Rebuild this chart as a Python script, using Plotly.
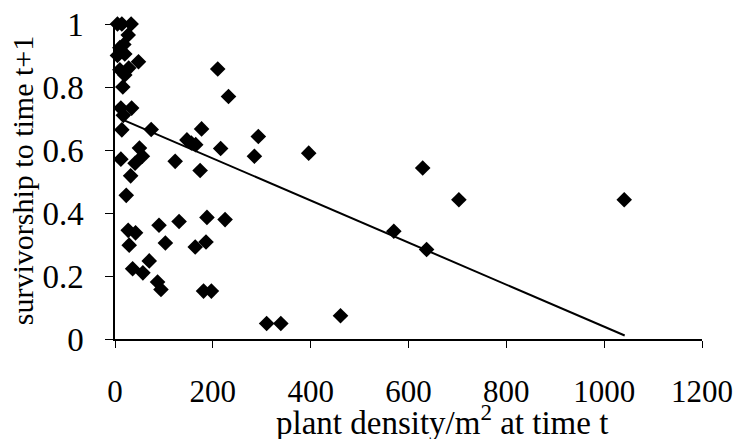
import plotly.graph_objects as go

density = [5, 14, 33, 27, 18, 10, 5, 20, 48, 10, 28, 20, 16, 12, 34, 17, 14, 74, 177, 293,
           147, 156, 165, 216, 285, 50, 56, 41, 12, 123, 174, 32, 23, 210, 232, 396, 629, 703,
           570, 637, 1041, 310, 339, 461, 131, 90, 188, 225, 27, 42, 29, 103, 164, 186, 70,
           36, 57, 87, 94, 181, 197]
survival = [1.0, 1.0, 1.0, 0.965, 0.935, 0.925, 0.90, 0.905, 0.88, 0.855, 0.86, 0.838, 0.80,
            0.733, 0.733, 0.71, 0.664, 0.665, 0.667, 0.643, 0.632, 0.622, 0.617, 0.605, 0.58,
            0.606, 0.58, 0.558, 0.571, 0.564, 0.535, 0.518, 0.456, 0.857, 0.77, 0.59, 0.543,
            0.442, 0.342, 0.284, 0.442, 0.049, 0.049, 0.074, 0.373, 0.361, 0.386, 0.379, 0.345,
            0.337, 0.298, 0.305, 0.292, 0.308, 0.248, 0.223, 0.21, 0.181, 0.157, 0.152, 0.152]

trend_x = [13, 1042]
trend_y = [0.698, 0.011]

x_ticks = [0, 200, 400, 600, 800, 1000, 1200]
y_ticks = [0, 0.2, 0.4, 0.6, 0.8, 1.0]
y_tick_labels = ["0", "0.2", "0.4", "0.6", "0.8", "1"]
x_title = "plant density/m<sup>2</sup> at time t"
y_title = "survivorship to time t+1"

font_family = "Liberation Serif, Times New Roman, serif"

fig = go.Figure()
fig.add_trace(go.Scatter(
    x=trend_x, y=trend_y, mode="lines",
    line=dict(color="black", width=2), showlegend=False, cliponaxis=False))
fig.add_trace(go.Scatter(
    x=density, y=survival, mode="markers",
    marker=dict(symbol="diamond", size=12, color="black", line=dict(width=0)),
    showlegend=False, cliponaxis=False))

fig.update_layout(
    width=737, height=439,
    margin=dict(l=115, r=35, t=24, b=100),
    plot_bgcolor="white", paper_bgcolor="white",
    font=dict(family=font_family, size=31, color="black"),
    xaxis=dict(
        range=[0, 1200], tickvals=x_ticks, ticks="outside", ticklen=7, tickwidth=1,
        tickcolor="black", showline=True, linecolor="black", linewidth=1.5,
        showgrid=False, zeroline=False, automargin=False,
        tickfont=dict(size=31), ticklabelstandoff=17,
    ),
    yaxis=dict(
        range=[0, 1], tickvals=y_ticks, ticktext=y_tick_labels, ticks="outside", ticklen=8,
        tickwidth=1, tickcolor="black", showline=True, linecolor="black", linewidth=1.5,
        showgrid=False, zeroline=False, automargin=False,
        tickfont=dict(size=33), ticklabelstandoff=15,
    ),
    annotations=[
        dict(text=x_title, xref="paper", yref="paper", x=0.557, y=-0.258,
             xanchor="center", yanchor="middle", showarrow=False,
             font=dict(size=33)),
        dict(text=y_title, xref="paper", yref="paper", x=-0.1585, y=0.504,
             xanchor="center", yanchor="middle", textangle=-90, showarrow=False,
             font=dict(size=30)),
    ],
)

fig.write_html(
    "out.html",
    config={"displayModeBar": False},
    post_script="document.body.style.margin='0';document.body.style.overflow='hidden';",
)
